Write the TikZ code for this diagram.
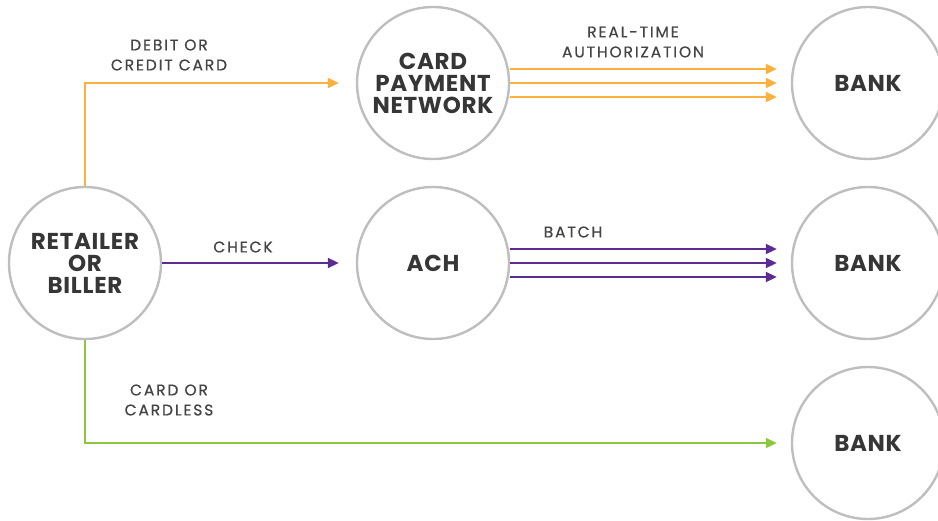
\documentclass[tikz,border=0pt]{standalone}
\usepackage{fontspec}
\setmainfont{Poppins}
\newfontfamily\lblfont[LetterSpace=12,FakeBold=0.6]{Poppins}
\newfontfamily\entfont[LetterSpace=3]{Poppins}
\usetikzlibrary{arrows.meta}
\definecolor{cgray}{HTML}{BEBEC0}
\definecolor{corange}{HTML}{FBB040}
\definecolor{cpurple}{HTML}{5C2D91}
\definecolor{cgreen}{HTML}{8DC63F}
\definecolor{ctext}{HTML}{363636}
\definecolor{clabel}{HTML}{444444}
\tikzset{
  ent/.style={circle, draw=cgray, line width=2.4pt, minimum size=152pt, inner sep=0pt,
    align=center, font=\entfont\fontsize{23}{22}\selectfont\bfseries, text=ctext},
  lbl/.style={align=center, font=\lblfont\fontsize{15.5}{20}\selectfont, text=clabel},
  flow/.style={line width=2pt, -{Triangle[length=11pt,width=10pt]}},
}
\begin{document}
\begin{tikzpicture}[x=1pt,y=-1pt]
\useasboundingbox (0,0) rectangle (938,520);
\node[ent] (ret) at (85,263) {RETAILER\\OR\\BILLER};
\node[ent] (cpn) at (433,83) {CARD\\PAYMENT\\NETWORK};
\node[ent] (ach) at (433,263) {ACH};
\node[ent] (b1) at (868,83) {BANK};
\node[ent] (b2) at (868,263) {BANK};
\node[ent] (b3) at (868,443) {BANK};

\coordinate (e1) at ([xshift=-17pt]cpn.west);
\coordinate (e2) at ([xshift=-17pt]ach.west);
\coordinate (e3) at ([xshift=-14pt]b3.west);

\draw[flow, corange] (ret.north) |- (e1);
\draw[flow, cpurple] (ret.east) -- (e2);
\draw[flow, cgreen] (ret.south) |- (e3);

\foreach \s in {-14,0,14}{
  \draw[flow, corange] ([yshift=\s pt]cpn.east) -- ([xshift=-14pt,yshift=\s pt]b1.west);
  \draw[flow, cpurple] ([yshift=\s pt]ach.east) -- ([xshift=-14pt,yshift=\s pt]b2.west);
}

\node[lbl] (l1) at (169,55) {DEBIT OR\\CREDIT CARD};
\node[lbl] (l2) at (243,247) {CHECK};
\node[lbl] (l3) at (169,400) {CARD OR\\CARDLESS};
\node[lbl] (l4) at (633,42) {REAL-TIME\\AUTHORIZATION};
\node[lbl] (l5) at (573,232) {BATCH};
\end{tikzpicture}
\end{document}
